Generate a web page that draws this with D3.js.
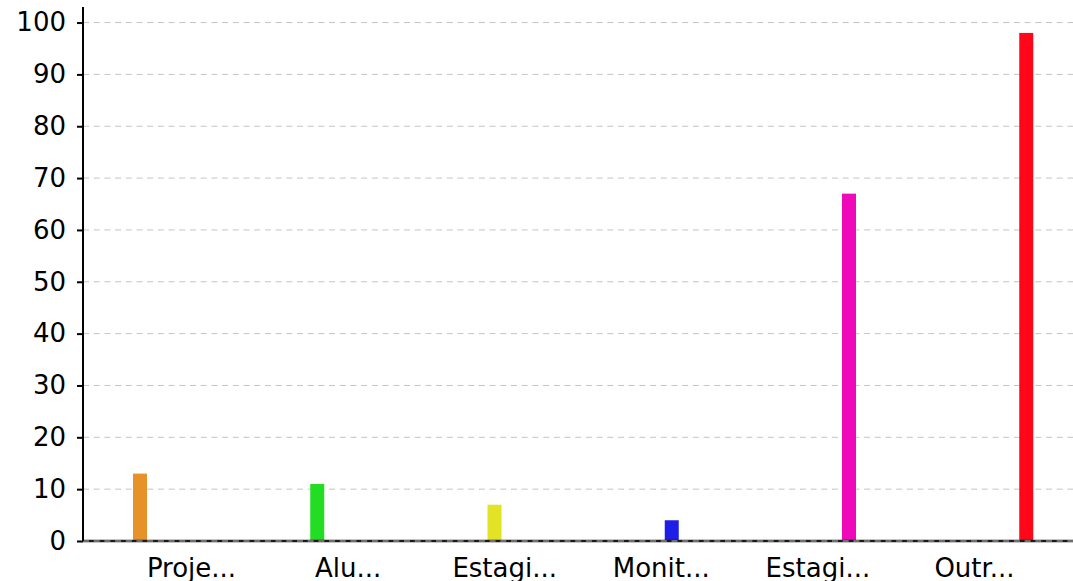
<!DOCTYPE html>
<html>
<head>
<meta charset="utf-8">
<script src="https://cdn.jsdelivr.net/npm/d3@7"></script>
<style>
  html, body { margin: 0; padding: 0; background: #fff; }
  svg { display: block; font-family: "DejaVu Sans", sans-serif; }
</style>
</head>
<body>
<svg id="chart" width="1073" height="581"></svg>
<script>
// Category labels (as shown, shortened) and one series per category
const categories = ["Proje...", "Alu...", "Estagi...", "Monit...", "Estagi...", "Outr..."];
const seriesNames = ["s0", "s1", "s2", "s3", "s4", "s5"];
const values = [13, 11, 7, 4, 67, 98];
const colors = ["#e69229", "#22dd22", "#e3e326", "#1e1ee6", "#ee0aba", "#ff0719"];
const yTicks = [0, 10, 20, 30, 40, 50, 60, 70, 80, 90, 100];

(function () {
  const svg = d3.select("#chart");
  const plotLeft = 83, plotRight = 1073, plotTop = 7, plotBottom = 541;
  const fontSize = 26;

  const idx = d3.range(categories.length);

  // Outer band per category, inner band per series slot
  const x0 = d3.scaleBand().domain(idx).range([plotLeft, plotRight]).padding(0);
  const x1 = d3.scaleBand().domain(seriesNames).range([50, 50 + 6 * 12.25]).padding(0);
  const barW = 14;

  // Label positions along the bottom
  const xLab = d3.scalePoint().domain(idx).range([191, 974]);

  const y = d3.scaleLinear().domain([0, 103]).range([plotBottom, plotTop]);

  // Grid lines
  svg.append("g").selectAll("line").data(yTicks.filter(d => d > 0)).join("line")
    .attr("x1", plotLeft).attr("x2", plotRight)
    .attr("y1", d => y(d)).attr("y2", d => y(d))
    .attr("stroke", "#c4c4c4").attr("stroke-width", 1)
    .attr("stroke-dasharray", "6,4.7");

  // Bars: category i carries only series i
  svg.append("g").selectAll("rect").data(idx).join("rect")
    .attr("x", i => x0(i) + x1(seriesNames[i]))
    .attr("width", barW)
    .attr("y", i => y(values[i]))
    .attr("height", i => y(0) - y(values[i]))
    .attr("fill", i => colors[i]);

  // Baseline with dashed zero grid line over it
  svg.append("line")
    .attr("x1", plotLeft).attr("x2", plotRight)
    .attr("y1", y(0)).attr("y2", y(0))
    .attr("stroke", "#1a1a1a").attr("stroke-width", 2.5);
  svg.append("line")
    .attr("x1", plotLeft).attr("x2", plotRight)
    .attr("y1", y(0)).attr("y2", y(0))
    .attr("stroke", "#c4c4c4").attr("stroke-width", 1)
    .attr("stroke-dasharray", "6,4.7");

  // Y axis
  const yAxis = svg.append("g")
    .attr("transform", `translate(${plotLeft},0)`)
    .call(d3.axisLeft(y).tickValues(yTicks).tickSize(6).tickSizeOuter(0).tickPadding(11));
  yAxis.select(".domain").attr("stroke", "#000").attr("stroke-width", 2)
    .attr("d", `M0,${plotTop}V${plotBottom}`);
  yAxis.selectAll(".tick line").attr("stroke", "#000").attr("stroke-width", 2);
  yAxis.selectAll(".tick text")
    .attr("fill", "#000")
    .style("font-size", fontSize + "px")
    .style("font-family", "'DejaVu Sans', sans-serif");

  // X labels
  const xAxis = svg.append("g")
    .attr("transform", `translate(0,${plotBottom})`)
    .call(d3.axisBottom(xLab).tickSize(0).tickPadding(17.5).tickFormat(i => categories[i]));
  xAxis.select(".domain").remove();
  xAxis.selectAll(".tick text")
    .attr("fill", "#000")
    .style("font-size", fontSize + "px")
    .style("font-family", "'DejaVu Sans', sans-serif");
})();
</script>
</body>
</html>
